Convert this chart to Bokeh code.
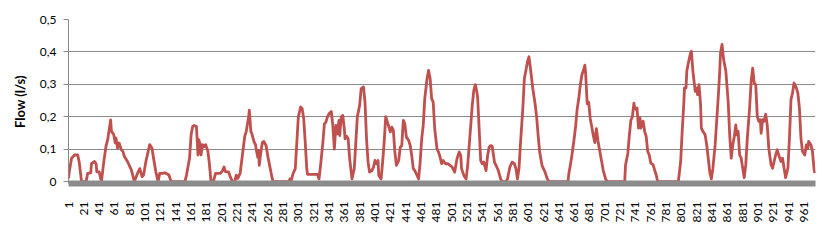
from bokeh.plotting import figure
from bokeh.models import Range1d, FixedTicker, CustomJSTickFormatter, ColumnDataSource
from bokeh.embed import file_html
from bokeh.resources import INLINE
import math

# sample index (x) and flow in l/s (y)
sample = [1, 2, 5, 9, 13, 15, 18, 24, 26, 30, 31, 35, 37, 38, 41, 44, 47, 50, 52, 54, 56, 57, 60, 62, 63, 65, 67, 70, 72, 74, 78, 83, 87, 91, 94, 97, 99, 102, 107, 110, 112, 115, 118, 120, 124,
          127, 132, 135, 153, 155, 159, 161, 163, 165, 168, 170, 171, 173, 174, 176, 178, 180, 183, 185, 187, 190, 193, 199, 202, 204, 206, 210, 212, 215, 218, 220, 222, 225, 228, 231, 233, 234, 236, 237, 239, 240, 243, 245,
          246, 248, 249, 250, 252, 254, 256, 259, 261, 264, 267, 268, 289, 290, 292, 294, 297, 299, 301, 304, 306, 308, 310, 312, 313, 326, 328, 330, 333, 335, 337, 339, 341, 344, 346, 348, 350, 352, 354, 355, 357, 359, 361, 362, 364, 366, 368,
          371, 374, 376, 378, 381, 383, 386, 388, 390, 392, 394, 397, 399, 401, 403, 405, 406, 409, 411, 413, 415, 418, 421, 423, 425, 427, 429, 432, 434, 436, 438, 440, 442, 445, 447, 449, 451, 453, 455, 458, 460, 462, 464, 466, 469, 471, 473, 475, 477, 479, 482, 484, 486, 488, 490,
          493, 496, 499, 502, 505, 508, 511, 513, 514, 517, 520, 522, 524, 526, 528, 530, 532, 534, 535, 537, 539, 541, 543, 546, 548, 550, 552, 554, 557, 559, 562, 565, 567, 572, 574, 577, 580, 583, 585, 587, 589, 591, 594, 596, 598, 600, 602, 604, 607,
          610, 612, 614, 616, 619, 623, 626, 628, 653, 654, 656, 658, 661, 663, 665, 667, 669, 671, 673, 675, 676, 678, 680, 682, 684, 686, 688, 690, 692, 694, 697, 699, 702, 704,
          727, 728, 731, 733, 735, 737, 739, 740, 742, 743, 745, 747, 748, 751, 753, 755, 757, 759, 761, 764, 766, 768, 770, 797, 800, 802, 804, 805, 807, 808, 810, 813, 814, 816, 818, 819, 821, 822, 824, 826, 827, 829, 832, 834, 836, 838, 840,
          842, 845, 847, 849, 851, 852, 854, 856, 859, 862, 864, 866, 868, 870, 872, 873, 875, 877, 879, 881, 883, 885, 887, 890, 892, 894, 896, 898, 900, 902, 904, 905, 907, 909, 911, 913, 915, 918, 920, 922, 924, 926, 928, 931, 933, 935, 937,
          940, 942, 944, 946, 948, 951, 953, 955, 957, 959, 962, 964, 966, 967, 970, 972, 974, 975]

flow = [0.01, 0.03, 0.072, 0.082, 0.082, 0.06, 0.0, 0.0, 0.025, 0.027, 0.055, 0.062, 0.055, 0.03, 0.03, 0.0, 0.06, 0.11, 0.127, 0.158, 0.19, 0.155, 0.145, 0.119, 0.134, 0.103, 0.119, 0.098, 0.093, 0.077, 0.062, 0.036, 0.0, 0.025, 0.04, 0.015, 0.02, 0.062, 0.114, 0.103, 0.072, 0.03, 0.0, 0.025, 0.025,
        0.027, 0.02, 0.0, 0.0, 0.02, 0.072, 0.144, 0.17, 0.173, 0.17, 0.082, 0.129, 0.114, 0.082, 0.114, 0.108, 0.114, 0.093, 0.052, 0.0, 0.0, 0.025, 0.025, 0.033, 0.045, 0.03, 0.03, 0.015, 0.0, 0.0, 0.02, 0.01, 0.025, 0.082, 0.139, 0.155, 0.17, 0.196, 0.22, 0.155, 0.15, 0.124, 0.114,
        0.10, 0.075, 0.096, 0.05, 0.09, 0.12, 0.124, 0.11, 0.08, 0.044, 0.008, 0.0, 0.0, 0.008, 0.006, 0.024, 0.04, 0.12, 0.2, 0.23, 0.225, 0.194, 0.12, 0.04, 0.022, 0.022, 0.008, 0.05, 0.12, 0.178, 0.183, 0.2, 0.209, 0.216, 0.173, 0.10, 0.173, 0.147, 0.189, 0.142, 0.2, 0.204, 0.163, 0.132, 0.14, 0.132, 0.07,
        0.008, 0.04, 0.12, 0.2, 0.235, 0.287, 0.292, 0.245, 0.132, 0.06, 0.029, 0.034, 0.044, 0.065, 0.055, 0.065, 0.019, 0.008, 0.06, 0.12, 0.2, 0.178, 0.153, 0.168, 0.158, 0.091, 0.05, 0.065, 0.106, 0.111, 0.189, 0.178, 0.137, 0.127, 0.111, 0.08, 0.04, 0.034, 0.024, 0.008, 0.06, 0.132, 0.173, 0.256, 0.318, 0.343, 0.318, 0.256, 0.245, 0.163, 0.10, 0.091, 0.075, 0.055, 0.065,
        0.055, 0.055, 0.05, 0.044, 0.029, 0.07, 0.091, 0.08, 0.04, 0.019, 0.008, 0.05, 0.111, 0.173, 0.235, 0.281, 0.299, 0.276, 0.26, 0.163, 0.065, 0.055, 0.06, 0.034, 0.08, 0.106, 0.111, 0.109, 0.06, 0.05, 0.034, 0.008, 0.0, 0.0, 0.008, 0.044, 0.06, 0.055, 0.04, 0.008, 0.04, 0.12, 0.225, 0.318, 0.343, 0.369, 0.385, 0.348, 0.287,
        0.24, 0.2, 0.142, 0.091, 0.05, 0.029, 0.008, 0.0, 0.0, 0.024, 0.05, 0.08, 0.132, 0.173, 0.225, 0.256, 0.297, 0.328, 0.343, 0.359, 0.333, 0.24, 0.245, 0.194, 0.168, 0.142, 0.12, 0.163, 0.127, 0.10, 0.06, 0.034, 0.008, 0.0,
        0.0, 0.05, 0.086, 0.142, 0.189, 0.2, 0.242, 0.227, 0.222, 0.227, 0.165, 0.196, 0.165, 0.186, 0.155, 0.139, 0.093, 0.082, 0.057, 0.052, 0.036, 0.021, 0.0, 0.0, 0.062, 0.155, 0.237, 0.289, 0.289, 0.34, 0.366, 0.397, 0.402, 0.34, 0.299, 0.278, 0.289, 0.268, 0.299, 0.237, 0.165, 0.155, 0.144, 0.113, 0.072, 0.029, 0.008,
        0.039, 0.113, 0.186, 0.258, 0.34, 0.397, 0.423, 0.378, 0.34, 0.247, 0.144, 0.072, 0.113, 0.139, 0.175, 0.144, 0.155, 0.082, 0.072, 0.041, 0.012, 0.052, 0.134, 0.227, 0.309, 0.35, 0.304, 0.299, 0.201, 0.186, 0.191, 0.149, 0.191, 0.186, 0.208, 0.175, 0.103, 0.052, 0.041, 0.062, 0.082, 0.098, 0.082, 0.062, 0.072, 0.041, 0.012,
        0.041, 0.134, 0.253, 0.273, 0.304, 0.289, 0.273, 0.227, 0.134, 0.093, 0.082, 0.113, 0.103, 0.124, 0.113, 0.093, 0.041, 0.026]

x_ticks = list(range(1, 962, 20))
y_ticks = [0, 0.1, 0.2, 0.3, 0.4, 0.5]

src = ColumnDataSource(dict(x=sample, y=flow))

p = figure(width=822, height=233, output_backend="svg", toolbar_location=None,
           x_range=Range1d(1, 976), y_range=Range1d(-0.006, 0.5),
           min_border_left=68, min_border_right=7, min_border_top=19, min_border_bottom=50)
p.outline_line_color = None
p.background_fill_color = "white"
p.border_fill_color = "white"

p.line("x", "y", source=src, line_color="#C0504D", line_width=2.8, line_join="round")

# grid
p.xgrid.grid_line_color = None
p.ygrid.grid_line_color = "#8a8a8a"
p.ygrid.grid_line_width = 1
p.ygrid.ticker = FixedTicker(ticks=y_ticks)

# y axis
ya = p.yaxis[0]
ya.ticker = FixedTicker(ticks=y_ticks)
ya.formatter = CustomJSTickFormatter(code="return tick == 0 ? '0' : tick.toFixed(1).replace('.', ',');")
ya.axis_line_color = "#8a8a8a"
ya.major_tick_line_color = "#8a8a8a"
ya.major_tick_out = 5
ya.major_tick_in = 0
ya.minor_tick_line_color = None
ya.major_label_standoff = 7
ya.major_label_text_font = "Lato"
ya.major_label_text_font_size = "12px"
ya.major_label_text_color = "#000000"
ya.axis_label = "Flow (l/s)"
ya.axis_label_text_font = "Lato"
ya.axis_label_text_font_style = "bold"
ya.axis_label_text_font_size = "13px"
ya.axis_label_text_color = "#000000"
ya.axis_label_standoff = 9

# x axis
xa = p.xaxis[0]
xa.ticker = FixedTicker(ticks=x_ticks)
xa.axis_line_color = "#8c8c8c"
xa.axis_line_width = 6
xa.major_tick_line_color = None
xa.minor_tick_line_color = None
xa.major_tick_out = 0
xa.major_tick_in = 0
xa.major_label_orientation = math.pi / 2
xa.major_label_standoff = 18
xa.major_label_text_font = "Lato"
xa.major_label_text_font_size = "12px"
xa.major_label_text_color = "#000000"

open("out.html", "w").write(file_html(p, INLINE))
